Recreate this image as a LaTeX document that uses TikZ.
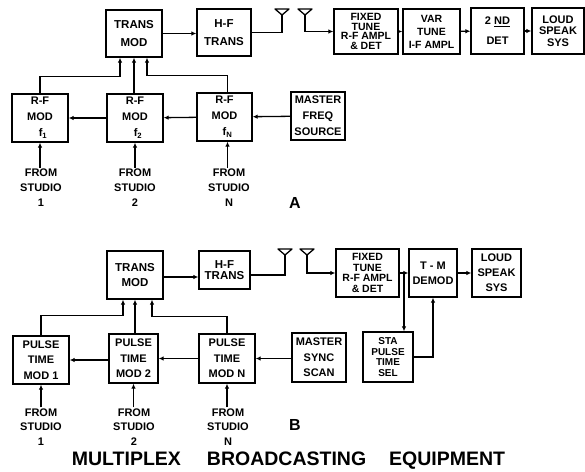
\documentclass[tikz,border=0pt]{standalone}
\usepackage{fontspec}
\setmainfont{Liberation Sans}
\usetikzlibrary{arrows.meta}

\def\fs#1#2{\bfseries\fontsize{#1}{#2}\selectfont}

\begin{document}
\begin{tikzpicture}[x=1pt, y=-1pt,
blk/.style={draw, line width=1.3pt, align=center, inner sep=0pt, font=\fs{11}{16}},
arr/.style={line width=1.3pt, -{Latex[length=5pt, width=4.5pt]}},
wire/.style={line width=1.3pt}]
\tikzstyle{studio}=[align=center, inner sep=1pt, font=\fs{11}{15}]
\tikzstyle{tag}=[inner sep=0pt, font=\fs{16}{16}]
\useasboundingbox (0,0) rectangle (585,471);
%A
\node[blk, minimum width=56, minimum height=47, font=\fs{11.5}{18}] (tmA) at (134,33.5) {TRANS\\MOD};
\node[blk, minimum width=54, minimum height=47, font=\fs{11.5}{18}] (hfA) at (224,32.5) {H-F\\TRANS};
\node[blk, minimum width=64, minimum height=45, font=\fs{10.5}{9.8}] (fixA) at (366,31.5) {FIXED\\TUNE\\R-F AMPL\\\& DET};
\node[blk, minimum width=57, minimum height=45, font=\fs{10.5}{13}] (varA) at (431.5,31.5) {VAR\\TUNE\\I-F AMPL};
\node[blk, minimum width=53, minimum height=46, font=\fs{11}{20}] (detA) at (497.5,31) {2 \underline{ND}\\DET};
\node[blk, minimum width=52, minimum height=46, font=\fs{11}{11.5}] (loudA) at (558,31) {LOUD\\SPEAK\\SYS};
\node[blk, minimum width=56, minimum height=48] (rf1) at (40,118) {R-F\\MOD\\\hspace{6pt}f\textsubscript{1}};
\node[blk, minimum width=56, minimum height=48] (rf2) at (135,118) {R-F\\MOD\\\hspace{6pt}f\textsubscript{2}};
\node[blk, minimum width=55, minimum height=48] (rfN) at (224.5,117) {R-F\\MOD\\\hspace{6pt}f\textsubscript{N}};
\node[blk, minimum width=54, minimum height=48] (mfA) at (318,116) {MASTER\\FREQ\\SOURCE};
\node[studio] (s1A) at (41,188) {FROM\\STUDIO\\1};
\node[studio] (s2A) at (135,188) {FROM\\STUDIO\\2};
\node[studio] (sNA) at (229,188) {FROM\\STUDIO\\N};
\node[tag] (labA) at (295,203) {A};
\coordinate (a1A) at (282,15);
\coordinate (a2A) at (305,15);

\draw[arr] (tmA.east) -- (tmA.east -| hfA.west);
\draw[wire] (hfA.east) -| (a1A);
\draw[arr] (a2A) |- (fixA.west);
\draw[arr] (fixA) -- (varA);
\draw[arr] (varA) -- (detA);
\draw[arr] (detA) -- (loudA);
\draw[arr] (mfA) -- (rfN);
\draw[arr] (rfN) -- (rf2);
\draw[arr] (rf2) -- (rf1);
\draw[arr] (rf1.north) -- ++(0,-17) -| ([xshift=-14pt]tmA.south);
\draw[arr] (rf2.north -| tmA.south) -- (tmA.south);
\draw[arr] ([xshift=3pt]rfN.north) -- ++(0,-17) -| ([xshift=13pt]tmA.south);
\draw[arr] (rf1.south |- s1A.north) -- (rf1.south);
\draw[arr] (rf2.south |- s2A.north) -- (rf2.south);
\draw[arr] ([xshift=3pt]rfN.south |- sNA.north) -- ([xshift=3pt]rfN.south);

%B
\node[blk, minimum width=56, minimum height=48, font=\fs{11.5}{15}] (tmB) at (135,275) {TRANS\\MOD};
\node[blk, minimum width=51, minimum height=38, font=\fs{11.5}{11}] (hfB) at (224.5,270) {H-F\\TRANS};
\node[blk, minimum width=63, minimum height=48, font=\fs{10.5}{10.5}] (fixB) at (367.5,273) {FIXED\\TUNE\\R-F AMPL\\\& DET};
\node[blk, minimum width=48, minimum height=48, font=\fs{11}{15}] (tmd) at (433,273) {T - M\\DEMOD};
\node[blk, minimum width=49, minimum height=48, font=\fs{11}{15}] (loudB) at (496.5,273) {LOUD\\SPEAK\\SYS};
\node[blk, minimum width=50, minimum height=50, font=\fs{10}{10.5}] (sta) at (388,357) {STA\\PULSE\\TIME\\SEL};
\node[blk, minimum width=54, minimum height=49, font=\fs{11}{15.5}] (msB) at (319,357.5) {MASTER\\SYNC\\SCAN};
\node[blk, minimum width=56, minimum height=48, font=\fs{11}{15.5}] (pt1) at (41,360) {PULSE\\TIME\\MOD 1};
\node[blk, minimum width=49, minimum height=49, font=\fs{11}{15.5}] (pt2) at (133.5,358.5) {PULSE\\TIME\\MOD 2};
\node[blk, minimum width=56, minimum height=49, font=\fs{11}{15.5}] (ptN) at (227,358.5) {PULSE\\TIME\\MOD N};
\node[studio, font=\fs{11}{14.5}] (s1B) at (41,427) {FROM\\STUDIO\\1};
\node[studio, font=\fs{11}{14.5}] (s2B) at (134,427) {FROM\\STUDIO\\2};
\node[studio, font=\fs{11}{14.5}] (sNB) at (228,427) {FROM\\STUDIO\\N};
\node[tag] (labB) at (295,425) {B};
\coordinate (a1B) at (285,255);
\coordinate (a2B) at (307,255);
\coordinate (jB) at (404,273);

\draw[arr] ([yshift=-2pt]tmB.east) -- ([yshift=-2pt]tmB.east -| hfB.west);
\draw[wire] ([yshift=-5pt]hfB.east) -| (a1B);
\draw[arr] (a2B) |- (fixB.west);
\draw[arr] (fixB) -- (tmd);
\draw[arr] (tmd) -- (loudB);
\draw[arr] (jB) -- (jB |- sta.north);
\draw[arr] (sta.east) -| (tmd.south);
\draw[arr] (msB.west |- ptN.east) -- (ptN.east);
\draw[arr] (ptN) -- (pt2);
\draw[arr] (pt2.west |- pt1.east) -- (pt1.east);
\draw[arr] (pt1.north) -- ++(0,-20) -| ([xshift=-12pt]tmB.south);
\draw[arr] (pt2.north -| tmB.south) -- (tmB.south);
\draw[arr] (ptN.north) -- ++(0,-17) -| ([xshift=17pt]tmB.south);
\draw[arr] (pt1.south |- s1B.north) -- (pt1.south);
\draw[arr] (pt2.south |- s2B.north) -- (pt2.south);
\draw[arr] (ptN.south |- sNB.north) -- (ptN.south);

% antennas
\foreach \a in {a1A,a2A,a1B,a2B}
  \draw[wire, line join=round] ([shift={(-7,-6)}]\a) -- ([shift={(7,-6)}]\a) -- (\a) -- cycle;

\node[inner sep=0pt, font=\fs{19.5}{19.5}] (title) at (288.5,461)
  {MULTIPLEX\hspace{26pt}BROADCASTING\hspace{23pt}EQUIPMENT};
\end{tikzpicture}
\end{document}
